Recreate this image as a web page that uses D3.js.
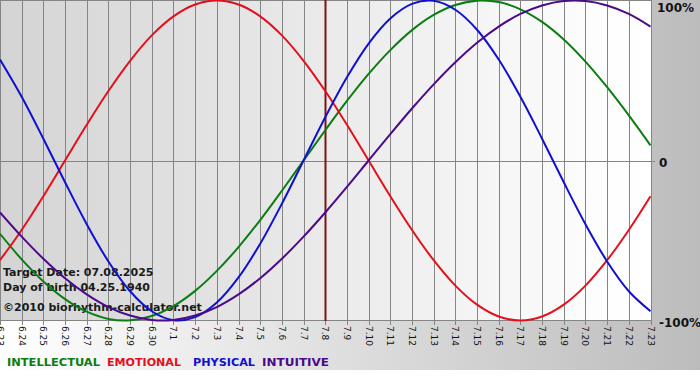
<!DOCTYPE html>
<html><head><meta charset="utf-8">
<script src="https://cdn.jsdelivr.net/npm/d3@7"></script>
<style>body{margin:0;background:#fff;}svg{display:block;}</style>
</head><body>
<script>
const days = ["6.23","6.24","6.25","6.26","6.27","6.28","6.29","6.30","7.1","7.2","7.3","7.4","7.5","7.6","7.7","7.8","7.9","7.10","7.11","7.12","7.13","7.14","7.15","7.16","7.17","7.18","7.19","7.20","7.21","7.22","7.23"];
const physical = [0.631,0.398,0.136,-0.136,-0.398,-0.631,-0.817,-0.942,-0.998,-0.979,-0.888,-0.731,-0.520,-0.270,0,0.270,0.520,0.731,0.888,0.979,0.998,0.942,0.817,0.631,0.398,0.136,-0.136,-0.398,-0.631,-0.817,-0.942];
const emotional = [-0.623,-0.434,-0.223,0,0.223,0.434,0.623,0.782,0.901,0.975,1,0.975,0.901,0.782,0.623,0.434,0.223,0,-0.223,-0.434,-0.623,-0.782,-0.901,-0.975,-1,-0.975,-0.901,-0.782,-0.623,-0.434,-0.223];
const intellectual = [-0.458,-0.618,-0.756,-0.866,-0.945,-0.990,-0.999,-0.972,-0.910,-0.815,-0.690,-0.541,-0.372,-0.189,0,0.189,0.372,0.541,0.690,0.815,0.910,0.972,0.999,0.990,0.945,0.866,0.756,0.618,0.458,0.282,0.095];
const intuitive = [-0.325,-0.476,-0.614,-0.736,-0.837,-0.916,-0.969,-0.997,-0.997,-0.969,-0.916,-0.837,-0.736,-0.614,-0.476,-0.325,-0.165,0,0.165,0.325,0.476,0.614,0.736,0.837,0.916,0.969,0.997,0.997,0.969,0.916,0.837];
const targetDay = "7.8";
const yTicks = [{v:1,t:"100%"},{v:0,t:"0"},{v:-1,t:"-100%"}];
const legend = [{t:"INTELLECTUAL",c:"#0b7d12"},{t:"EMOTIONAL",c:"#e3101c"},{t:"PHYSICAL",c:"#1010d0"},{t:"INTUITIVE",c:"#4b0a8a"}];
const infoLines = ["Target Date: 07.08.2025","Day of birth 04.25.1940","©2010 biorhythm-calculator.net"];

const W=700,H=380, PL=0, PR=650.5, PT=0.5, PB=320.5;
const svg=d3.select("body").append("svg").attr("width",W).attr("height",H);
const defs=svg.append("defs");
const g1=defs.append("linearGradient").attr("id","outer").attr("x1","0").attr("x2","1").attr("y1","0").attr("y2","0");
g1.append("stop").attr("offset","0").attr("stop-color","#ffffff");
g1.append("stop").attr("offset","1").attr("stop-color","#bcbcbc");
const g2=defs.append("linearGradient").attr("id","plot").attr("x1","0").attr("x2","1").attr("y1","0").attr("y2","0");
g2.append("stop").attr("offset","0").attr("stop-color","#d4d4d4");
g2.append("stop").attr("offset","0.92").attr("stop-color","#fdfdfd");
g2.append("stop").attr("offset","1").attr("stop-color","#ffffff");

svg.append("rect").attr("x",0).attr("y",0).attr("width",W).attr("height",370).attr("fill","url(#outer)");
svg.append("rect").attr("x",0).attr("y",0).attr("width",651).attr("height",321).attr("fill","url(#plot)");

const x=d3.scalePoint().domain(days).range([PL,PR]);
const y=d3.scaleLinear().domain([-1,1]).range([PB,PT]);

// grid
svg.append("g").selectAll("line").data(days).join("line")
  .attr("x1",d=>Math.round(x(d))+0.5).attr("x2",d=>Math.round(x(d))+0.5)
  .attr("y1",0).attr("y2",325).attr("stroke","#858585").attr("stroke-width",1);
svg.append("line").attr("x1",0).attr("x2",651).attr("y1",0.5).attr("y2",0.5).attr("stroke","#858585");
svg.append("line").attr("x1",0).attr("x2",655).attr("y1",Math.round(y(0))+0.5).attr("y2",Math.round(y(0))+0.5).attr("stroke","#858585");
svg.append("line").attr("x1",0).attr("x2",651).attr("y1",320.5).attr("y2",320.5).attr("stroke","#858585");

// x labels
svg.append("g").selectAll("text").data(days).join("text")
  .attr("transform",d=>`translate(${Math.round(x(d))-3},326) rotate(90)`)
  .attr("font-family","DejaVu Sans, Verdana, sans-serif").attr("font-size",9)
  .attr("fill","#111").text(d=>d);

// info text
svg.append("g").selectAll("text").data(infoLines).join("text")
  .attr("x",3).attr("y",(d,i)=>[276,291,311][i])
  .attr("font-family","DejaVu Sans, Verdana, sans-serif").attr("font-size",11).attr("font-weight","bold")
  .attr("fill","#1a1a1a").text(d=>d);

// target line
svg.append("line").attr("x1",Math.round(x(targetDay))+0.5).attr("x2",Math.round(x(targetDay))+0.5)
  .attr("y1",0).attr("y2",321).attr("stroke","#7a1515").attr("stroke-width",2);

// curves
const series=[{v:intellectual,c:legend[0].c},{v:emotional,c:legend[1].c},{v:physical,c:legend[2].c},{v:intuitive,c:legend[3].c}];
const line=d3.line().x((d,i)=>x(days[i])).y(d=>y(d)).curve(d3.curveCatmullRom);
svg.append("g").selectAll("path").data(series).join("path")
  .attr("d",d=>line(d.v)).attr("fill","none").attr("stroke",d=>d.c).attr("stroke-width",2);

// right labels
svg.append("g").selectAll("text").data(yTicks).join("text")
  .attr("x",d=>d.v<0?659:(d.v>0?657:659)).attr("y",d=>d.v>0?12:(d.v<0?327:y(0)+6))
  .attr("font-family","DejaVu Sans, Verdana, sans-serif").attr("font-size",12).attr("font-weight","bold")
  .attr("fill","#111").text(d=>d.t);

// legend
const lx=[7,107,193,262], lw=[93,74,62,67];
svg.append("g").selectAll("text").data(legend).join("text")
  .attr("x",(d,i)=>lx[i]).attr("y",366)
  .attr("font-family","DejaVu Sans Condensed, DejaVu Sans, sans-serif").attr("font-size",11).attr("font-weight","bold")
  .attr("textLength",(d,i)=>lw[i]).attr("lengthAdjust","spacingAndGlyphs")
  .attr("fill",d=>d.c).text(d=>d.t);
</script>
</body></html>
